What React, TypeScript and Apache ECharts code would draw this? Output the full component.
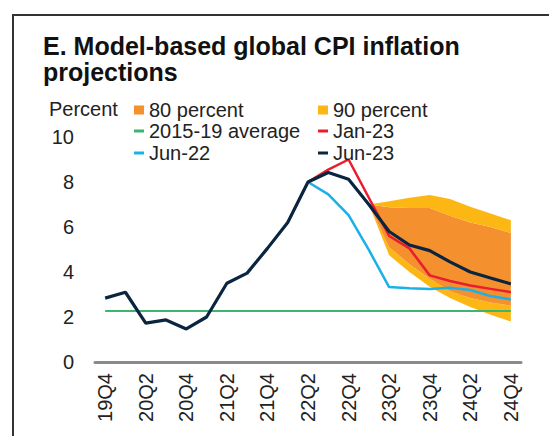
import React, { useEffect, useRef } from "react";
import * as echarts from "echarts";

const categories = [
  "19Q4", "20Q1", "20Q2", "20Q3", "20Q4", "21Q1", "21Q2", "21Q3", "21Q4",
  "22Q1", "22Q2", "22Q3", "22Q4", "23Q1", "23Q2", "23Q3", "23Q4",
  "24Q1", "24Q2", "24Q3", "24Q4",
];

const jun23 = [2.84, 3.1, 1.73, 1.87, 1.47, 2.0, 3.5, 3.95, 5.05, 6.2, 8.0, 8.42, 8.12, 7.0, 5.8, 5.2, 4.95, 4.45, 4.0, 3.73, 3.47];
const jan23 = [null, null, null, null, null, null, null, null, null, null, 8.0, 8.55, 9.0, 7.3, 5.6, 5.05, 3.85, 3.6, 3.4, 3.25, 3.1];
const jun22 = [null, null, null, null, null, null, null, null, null, null, 8.0, 7.45, 6.53, 4.98, 3.33, 3.28, 3.24, 3.3, 3.2, 2.93, 2.78];
const avg1519 = [2.27, 2.27, 2.27, 2.27, 2.27, 2.27, 2.27, 2.27, 2.27, 2.27, 2.27, 2.27, 2.27, 2.27, 2.27, 2.27, 2.27, 2.27, 2.27, 2.27, 2.27];

// fan chart bounds (from 23Q1 onward)
const upper90 = [null, null, null, null, null, null, null, null, null, null, null, null, null, 7.0, 7.15, 7.3, 7.42, 7.25, 6.9, 6.6, 6.3];
const upper80 = [null, null, null, null, null, null, null, null, null, null, null, null, null, 7.0, 6.88, 6.85, 6.85, 6.5, 6.2, 6.0, 5.73];
const lower80 = [null, null, null, null, null, null, null, null, null, null, null, null, null, 7.0, 5.1, 4.35, 3.7, 3.15, 2.85, 2.65, 2.5];
const lower90 = [null, null, null, null, null, null, null, null, null, null, null, null, null, 7.0, 4.75, 4.0, 3.35, 2.85, 2.45, 2.1, 1.8];

const yTicks = { min: 0, max: 10, interval: 2 };

const C = {
  orange: "#F5902E",
  yellow: "#FDB714",
  green: "#3DB56E",
  red: "#EB1C2D",
  blue: "#1AB0E8",
  navy: "#0A2540",
  text: "#222222",
};

const FONT = "'Liberation Sans', Arial, sans-serif";

function diff(a: (number | null)[], b: (number | null)[]) {
  return a.map((v, i) => (v == null || b[i] == null ? "-" : +((v as number) - (b[i] as number)).toFixed(3)));
}

export default function App() {
  const ref = useRef<HTMLDivElement>(null);
  useEffect(() => {
    document.body.style.margin = "0";
    const chart = echarts.init(ref.current!, null, { renderer: "svg" });
    const legendBase = {
      padding: 0,
      selectedMode: false,
      itemWidth: 10,
      textStyle: { fontSize: 20, color: C.text, fontFamily: FONT },
    };
    const option: any = {
      animation: false,
      backgroundColor: "#ffffff",
      grid: { left: 95, right: 28, top: 137, bottom: 74, containLabel: false },
      legend: [
        { ...legendBase, left: 134, top: 100, itemHeight: 9, icon: "rect", data: ["80 percent"] },
        { ...legendBase, left: 318, top: 100, itemHeight: 9, icon: "rect", data: ["90 percent"] },
        { ...legendBase, left: 134, top: 121, itemHeight: 3, icon: "rect", data: ["2015-19 average"] },
        { ...legendBase, left: 318, top: 121, itemHeight: 3, icon: "rect", data: ["Jan-23"] },
        { ...legendBase, left: 134, top: 143, itemHeight: 3, icon: "rect", data: ["Jun-22"] },
        { ...legendBase, left: 318, top: 143, itemHeight: 3, icon: "rect", data: ["Jun-23"] },
      ],
      graphic: [
        {
          type: "rect",
          shape: { x: 13, y: 15, width: 700, height: 600 },
          style: { fill: "none", stroke: "#333333", lineWidth: 2 },
          silent: true,
        },
        {
          type: "text",
          x: 43,
          y: 46,
          style: { text: "E. Model-based global CPI inflation", font: `bold 25px ${FONT}`, fill: "#111111", verticalAlign: "middle" },
        },
        {
          type: "text",
          x: 43,
          y: 72,
          style: { text: "projections", font: `bold 25px ${FONT}`, fill: "#111111", verticalAlign: "middle" },
        },
        {
          type: "text",
          x: 49,
          y: 109,
          style: { text: "Percent", font: `20px ${FONT}`, fill: C.text, verticalAlign: "middle" },
        },
      ],
      xAxis: {
        type: "category",
        data: categories,
        boundaryGap: true,
        axisLine: { show: true, lineStyle: { color: "#8a8a8a", width: 3 } },
        axisTick: { show: false },
        axisLabel: { interval: 1, rotate: 90, margin: 11, fontSize: 20, color: C.text, fontFamily: FONT },
        splitLine: { show: false },
      },
      yAxis: {
        type: "value",
        min: yTicks.min,
        max: yTicks.max,
        interval: yTicks.interval,
        axisLine: { show: false },
        axisTick: { show: false },
        splitLine: { show: false },
        axisLabel: { margin: 21, fontSize: 20, color: C.text, fontFamily: FONT },
      },
      series: [
        {
          name: "base",
          type: "line",
          stack: "fan",
          data: lower90.map((v) => (v == null ? "-" : v)),
          symbol: "none",
          lineStyle: { width: 0, opacity: 0 },
          areaStyle: { opacity: 0 },
          silent: true,
        },
        {
          name: "90 percent",
          type: "line",
          stack: "fan",
          data: diff(lower80, lower90),
          color: C.yellow,
          symbol: "none",
          lineStyle: { width: 0, opacity: 0 },
          areaStyle: { color: C.yellow, opacity: 1 },
          silent: true,
        },
        {
          name: "80 percent",
          type: "line",
          stack: "fan",
          data: diff(upper80, lower80),
          color: C.orange,
          symbol: "none",
          lineStyle: { width: 0, opacity: 0 },
          areaStyle: { color: C.orange, opacity: 1 },
          silent: true,
        },
        {
          name: "90 percent",
          type: "line",
          stack: "fan",
          data: diff(upper90, upper80),
          color: C.yellow,
          symbol: "none",
          lineStyle: { width: 0, opacity: 0 },
          areaStyle: { color: C.yellow, opacity: 1 },
          silent: true,
        },
        {
          name: "2015-19 average",
          type: "line",
          data: avg1519,
          color: C.green,
          symbol: "none",
          lineStyle: { width: 2, color: C.green },
        },
        {
          name: "Jun-22",
          type: "line",
          data: jun22.map((v) => (v == null ? "-" : v)),
          color: C.blue,
          symbol: "none",
          lineStyle: { width: 2.5, color: C.blue },
        },
        {
          name: "Jan-23",
          type: "line",
          data: jan23.map((v) => (v == null ? "-" : v)),
          color: C.red,
          symbol: "none",
          lineStyle: { width: 2.5, color: C.red },
        },
        {
          name: "Jun-23",
          type: "line",
          data: jun23,
          color: C.navy,
          symbol: "none",
          lineStyle: { width: 3.2, color: C.navy },
        },
      ],
    };
    chart.setOption(option);
    return () => chart.dispose();
  }, []);
  return <div ref={ref} style={{ width: 549, height: 436 }} />;
}
